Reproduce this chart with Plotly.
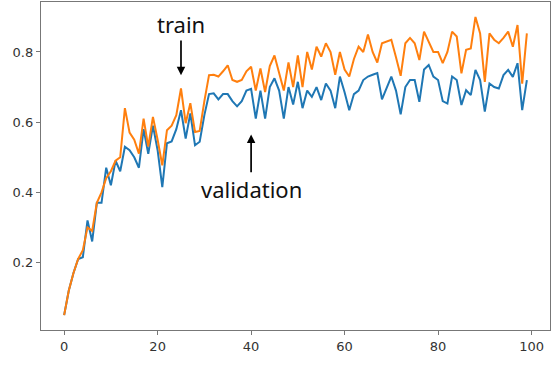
import plotly.graph_objects as go

epochs = list(range(100))

validation = [
    0.05, 0.12, 0.17, 0.21, 0.215, 0.32, 0.26, 0.37, 0.37, 0.47,
    0.42, 0.49, 0.46, 0.53, 0.52, 0.50, 0.47, 0.58, 0.51, 0.59,
    0.52, 0.415, 0.54, 0.545, 0.58, 0.634, 0.553, 0.625, 0.534, 0.544,
    0.62, 0.68, 0.682, 0.665, 0.68, 0.68, 0.66, 0.645, 0.66, 0.69,
    0.695, 0.61, 0.69, 0.61, 0.70, 0.725, 0.69, 0.61, 0.70, 0.65,
    0.715, 0.64, 0.69, 0.672, 0.70, 0.663, 0.71, 0.69, 0.64, 0.73,
    0.685, 0.634, 0.68, 0.69, 0.72, 0.73, 0.735, 0.74, 0.665, 0.70,
    0.73, 0.69, 0.622, 0.70, 0.72, 0.72, 0.658, 0.75, 0.763, 0.73,
    0.72, 0.66, 0.653, 0.73, 0.72, 0.649, 0.691, 0.677, 0.749, 0.72,
    0.63, 0.71, 0.70, 0.696, 0.734, 0.749, 0.729, 0.768, 0.634, 0.72,
]

train = [
    0.05, 0.12, 0.17, 0.21, 0.235, 0.30, 0.29, 0.37, 0.40, 0.44,
    0.46, 0.49, 0.50, 0.64, 0.57, 0.55, 0.51, 0.61, 0.53, 0.615,
    0.55, 0.477, 0.577, 0.59, 0.62, 0.696, 0.597, 0.654, 0.572, 0.575,
    0.66, 0.734, 0.735, 0.73, 0.745, 0.762, 0.72, 0.715, 0.72, 0.745,
    0.758, 0.69, 0.753, 0.686, 0.76, 0.79, 0.74, 0.69, 0.77, 0.70,
    0.79, 0.70, 0.80, 0.75, 0.815, 0.787, 0.825, 0.80, 0.735, 0.80,
    0.75, 0.73, 0.78, 0.815, 0.80, 0.85, 0.80, 0.77, 0.825, 0.83,
    0.835, 0.785, 0.732, 0.825, 0.84, 0.825, 0.777, 0.858, 0.83, 0.80,
    0.80, 0.768, 0.80, 0.858, 0.844, 0.739, 0.806, 0.81, 0.90, 0.853,
    0.715, 0.853, 0.835, 0.825, 0.84, 0.858, 0.815, 0.877, 0.71, 0.853,
]

x_ticks = [0, 20, 40, 60, 80, 100]
y_ticks = [0.2, 0.4, 0.6, 0.8]

fig = go.Figure()
fig.add_trace(go.Scatter(x=epochs, y=validation, mode="lines",
                         line=dict(color="#1f77b4", width=2), name="validation"))
fig.add_trace(go.Scatter(x=epochs, y=train, mode="lines",
                         line=dict(color="#ff7f0e", width=2), name="train"))

ann_font = dict(family="Noto Sans, DejaVu Sans", size=22, color="#111111")
fig.add_annotation(x=25, y=0.734, ax=25, ay=0.88, xref="x", yref="y",
                   axref="x", ayref="y", text="train", showarrow=True,
                   arrowhead=2, arrowsize=1, arrowwidth=1.7, arrowcolor="#000000",
                   font=ann_font)
fig.add_annotation(x=40, y=0.565, ax=40, ay=0.41, xref="x", yref="y",
                   axref="x", ayref="y", text="validation", showarrow=True,
                   arrowhead=2, arrowsize=1, arrowwidth=1.7, arrowcolor="#000000",
                   font=ann_font)

axis_common = dict(showline=True, linecolor="#777777", linewidth=1.3, mirror=True,
                   showgrid=False, zeroline=False, ticks="outside", ticklen=4,
                   tickcolor="#777777", tickwidth=1.2,
                   tickfont=dict(family="DejaVu Sans", size=13, color="#333333"))

fig.update_xaxes(range=[-4.95, 103.95], tickvals=x_ticks,
                 ticktext=[str(v) for v in x_ticks], **axis_common)
fig.update_yaxes(range=[0.0075, 0.9425], tickvals=y_ticks,
                 ticktext=[f"{v:.1f}" for v in y_ticks], **axis_common)

fig.update_layout(width=559, height=384, margin=dict(l=41, r=9, t=2, b=54),
                  paper_bgcolor="white", plot_bgcolor="white", showlegend=False)

fig.write_html("out.html")
